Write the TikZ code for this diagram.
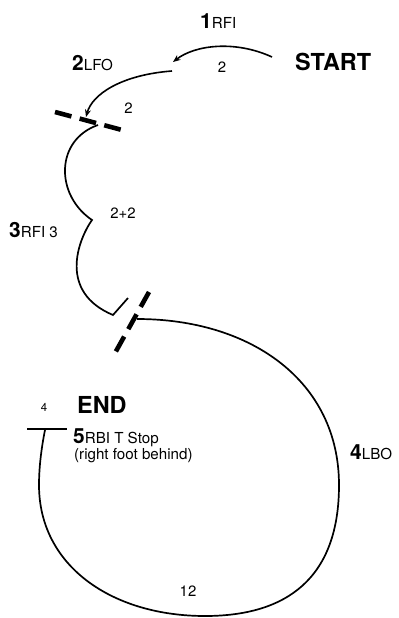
\documentclass[tikz,border=0pt]{standalone}
\usepackage{fontspec}
\setmainfont{TeX Gyre Heros}
\usetikzlibrary{arrows.meta}
\newcommand\steplab[2]{{\fontsize{21}{24}\selectfont\bfseries #1}{\fontsize{15.2}{17}\selectfont #2}}
\begin{document}
\begin{tikzpicture}[x=1bp,y=-1bp,
  trackline/.style={line width=1.7bp},
  arrowline/.style={line width=1.6bp,-{Stealth[length=7.5bp,width=6bp]}},
  cutline/.style={line width=4.6bp,dash pattern=on 17bp off 8.5bp},
  lab/.style={inner sep=0pt,anchor=base west},
  smalllab/.style={inner sep=0pt,anchor=base,font=\fontsize{15}{17}\selectfont},
  tinylab/.style={inner sep=0pt,anchor=base,font=\fontsize{11.5}{13}\selectfont},
  title/.style={inner sep=0pt,anchor=base west,font=\fontsize{23.5}{27}\selectfont\bfseries}]
\useasboundingbox (0,0) rectangle (398,618);

% labels
\node[lab] (l1) at (200,29) {\steplab{1}{RFI}};
\node[title] (start) at (295,71) {START};
\node[lab] (l2) at (72,71) {\steplab{2}{LFO}};
\node[smalllab] (n2a) at (222,73) {2};
\node[smalllab] (n2b) at (128.5,114) {2};
\node[lab] (l3) at (9,237) {\steplab{3}{RFI 3}};
\node[smalllab] (n22) at (123,218) {2+2};
\node[tinylab] (n4) at (44,411) {4};
\node[title] (endl) at (77,413) {END};
\node[lab] (l5) at (73,443) {\steplab{5}{RBI T Stop}};
\node[lab] (foot) at (74,459) {\fontsize{15.2}{17}\selectfont (right foot behind)};
\node[lab] (l4) at (350,459) {\steplab{4}{LBO}};
\node[smalllab] (n12) at (188,596) {12};

% key points
\coordinate (a1s) at (272,57);
\coordinate (a1e) at (173,62);
\coordinate (a2s) at (172,71);
\coordinate (a2e) at (86,117);
\coordinate (c3s) at (98,125);
\coordinate (c3k) at (92,220);
\coordinate (c3v) at (113,315);
\coordinate (c3e) at (128,298);
\coordinate (cut1a) at (55,112);
\coordinate (cut1b) at (122,130);
\coordinate (cut2a) at (149,292);
\coordinate (cut2b) at (115,353);
\coordinate (ls) at (137,319);
\coordinate (lr) at (339,485);
\coordinate (lb) at (205,616);
\coordinate (ll) at (39,485);
\coordinate (lt) at (45,430);
\coordinate (tl) at (27,429);
\coordinate (tr) at (67,429);

% arrows
\draw[arrowline] (a1s) .. controls (235,40) and (195,45) .. (a1e);
\draw[arrowline] (a2s) .. controls (120,75) and (92,95) .. (a2e);

% curve 3
\draw[trackline] (c3s) .. controls (55,140) and (55,195) .. (c3k)
  .. controls (78,240) and (58,292) .. (c3v) -- (c3e);

% cut lines
\draw[cutline] (cut1a) -- (cut1b);
\draw[cutline] (cut2a) -- (cut2b);

% big loop
\draw[trackline] (ls) .. controls (252,319) and (339,382) .. (lr)
  .. controls (339,578) and (287,616) .. (lb)
  .. controls (112,616) and (39,566) .. (ll)
  .. controls (39,465) and (42,445) .. (lt);

% T stop bar
\draw[trackline] (tl) -- (tr);
\end{tikzpicture}
\end{document}
